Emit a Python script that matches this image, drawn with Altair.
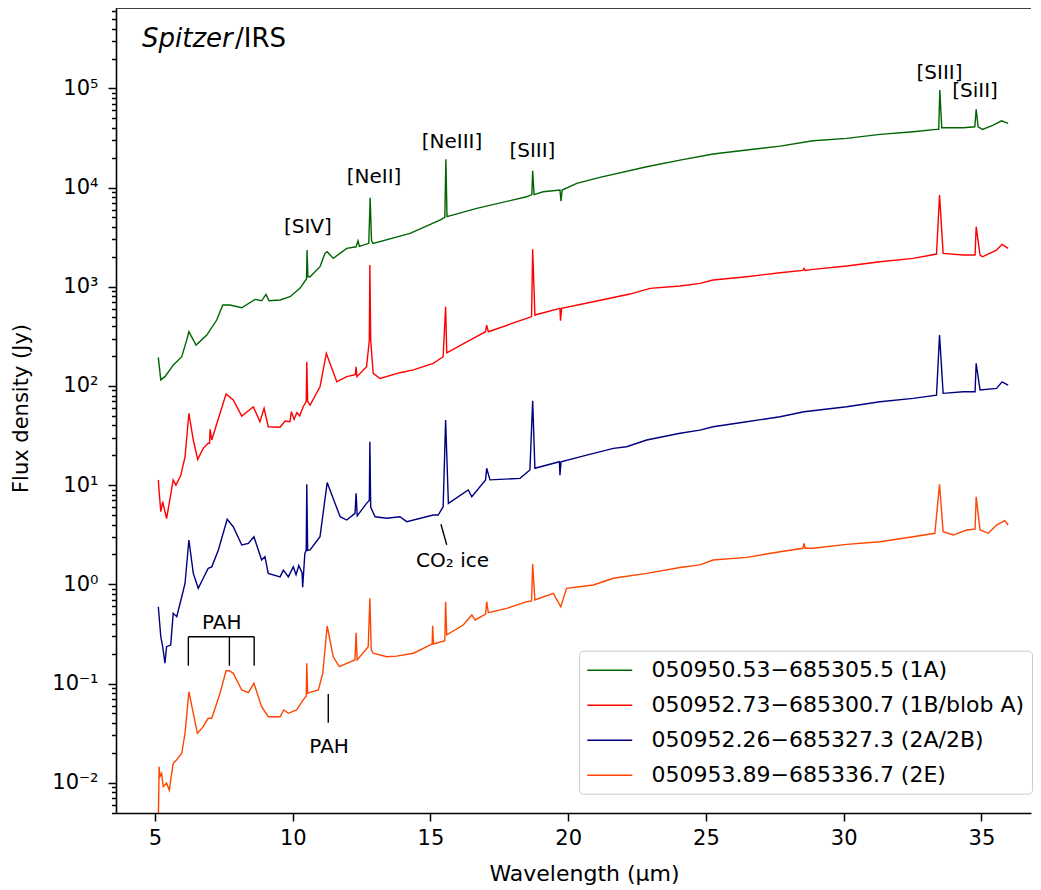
import altair as alt
import pandas as pd

# ---------------- data ----------------
names = [
    "050950.53\u2212685305.5 (1A)",
    "050952.73\u2212685300.7 (1B/blob A)",
    "050952.26\u2212685327.3 (2A/2B)",
    "050953.89\u2212685336.7 (2E)",
]
colors = ["#006400", "#ff0000", "#000080", "#ff4500"]

lam_1a = [5.12, 5.21, 5.36, 5.66, 5.97, 6.15, 6.23, 6.49, 6.88, 7.24, 7.46, 7.72, 8.15, 8.63, 8.87, 9.03, 9.14, 9.54, 9.90, 10.26,
          10.47, 10.50, 10.52, 10.55, 10.63, 10.99, 11.17, 11.25, 11.47, 11.96, 12.30, 12.37, 12.42, 12.76, 12.81, 12.86, 12.92, 14.26, 15.34, 15.52,
          15.56, 15.60, 16.68, 18.49, 18.60, 18.68, 18.71, 18.76, 19.09, 19.70, 19.74, 19.78, 20.31, 21.15, 22.85, 24.06, 25.26, 26.48, 27.69, 28.89,
          30.11, 31.32, 32.52, 33.37, 33.45, 33.49, 33.56, 33.61, 34.34, 34.76, 34.81, 34.88, 35.04, 35.43, 35.73, 35.97]
flux_1a = [194, 115, 124, 162, 197, 290, 352, 258, 326, 462, 654, 654, 614, 746, 722, 838, 722, 735, 793, 964,
           1169, 1200, 2344, 1262, 1262, 1592, 2172, 2254, 1933, 2438, 2530, 2900, 2550, 2740, 7890, 2900, 2740, 3453, 4700, 5010,
           19240, 5100, 6170, 8075, 8300, 8500, 14760, 8500, 9070, 9440, 7310, 9440, 11030, 12680, 16220, 18930, 21780, 23880, 26190, 29650,
           31340, 34370, 36540, 38620, 38620, 96160, 40090, 40090, 40090, 41000, 61420, 41030, 38620, 42660, 47120, 44390]

lam_1b = [5.12, 5.15, 5.21, 5.28, 5.42, 5.66, 5.76, 5.93, 6.09, 6.23, 6.39, 6.55, 6.75, 6.93, 6.98, 7.00, 7.06, 7.36, 7.58, 7.84,
          8.15, 8.57, 8.81, 8.96, 9.11, 9.54, 9.72, 9.90, 9.95, 10.05, 10.15, 10.25, 10.38, 10.49, 10.51, 10.54, 10.63, 10.99, 11.22, 11.35,
          11.60, 11.96, 12.27, 12.30, 12.33, 12.68, 12.78, 12.80, 12.83, 12.92, 13.17, 13.89, 14.38, 15.10, 15.46, 15.55, 15.59, 16.55, 17.00, 17.04,
          17.10, 18.49, 18.67, 18.71, 18.79, 19.70, 19.72, 19.76, 20.91, 22.24, 22.97, 24.06, 24.78, 25.26, 26.48, 27.69, 28.52, 28.56, 28.60, 28.89,
          30.11, 31.32, 32.52, 33.37, 33.48, 33.61, 34.34, 34.77, 34.81, 34.95, 35.04, 35.55, 35.75, 35.97]
flux_1b = [11.3, 8.6, 5.4, 6.8, 4.6, 11.3, 10.0, 12.4, 19.3, 53.0, 28.5, 18.2, 23.5, 26.4, 26.4, 36.5, 28.5, 53.0, 82.9, 72.1,
           49.7, 61.7, 43.6, 59.5, 38.8, 38.3, 44.3, 43.6, 55, 46, 54, 50, 61.7, 70, 175, 70, 64.2, 98.2, 213, 169,
           110, 124, 130, 156, 124, 156, 290, 1655, 290, 134, 119, 136, 145, 169, 197, 629, 216, 302, 352, 411,
           352, 480, 500, 2383, 519, 606, 454, 606, 706, 844, 964, 1016, 1082, 1169, 1262, 1384, 1460, 1532, 1460, 1497,
           1617, 1786, 1933, 2136, 8400, 2172, 2088, 2088, 4030, 2088, 2006, 2344, 2675, 2438]

lam_2a = [5.12, 5.21, 5.28, 5.36, 5.42, 5.57, 5.66, 5.79, 5.97, 6.09, 6.23, 6.39, 6.57, 6.75, 6.93, 7.06, 7.30, 7.62, 7.84, 8.15,
          8.39, 8.59, 8.87, 8.99, 9.11, 9.54, 9.66, 9.84, 10.02, 10.12, 10.22, 10.34, 10.36, 10.44, 10.49, 10.51, 10.54, 10.63, 10.99, 11.25,
          11.72, 11.96, 12.26, 12.30, 12.34, 12.68, 12.78, 12.80, 12.83, 12.99, 13.41, 13.89, 14.14, 15.10, 15.28, 15.46, 15.55, 15.65, 16.37, 16.50,
          17.00, 17.04, 17.16, 18.25, 18.61, 18.71, 18.79, 19.68, 19.70, 19.74, 20.67, 21.64, 22.12, 22.85, 24.06, 24.78, 25.26, 26.48, 27.69, 28.56,
          30.11, 31.32, 32.52, 33.37, 33.48, 33.61, 34.34, 34.77, 34.81, 34.95, 35.55, 35.75, 35.97]
flux_2a = [0.594, 0.296, 0.235, 0.160, 0.235, 0.244, 0.510, 0.471, 0.750, 1.02, 2.80, 1.29, 0.911, 1.15, 1.45, 1.50, 2.22, 4.52, 3.81, 2.49,
           2.59, 3.02, 1.76, 1.90, 1.29, 1.19, 1.39, 1.19, 1.50, 1.25, 1.55, 1.30, 0.933, 2.05, 2.2, 10.2, 2.2, 2.22, 3.02, 10.6,
           4.80, 4.45, 5.20, 8.27, 4.9, 6.55, 7.0, 27.4, 6.0, 4.80, 4.63, 4.80, 4.28, 5.00, 5.00, 6.06, 45.3, 6.55, 8.93, 7.64,
           11.3, 14.8, 11.3, 11.7, 14.2, 71.0, 14.8, 17.2, 12.6, 17.2, 20.1, 23.5, 24.4, 28.5, 33.3, 35.9, 38.8, 43.6, 48.9, 55.0,
           61.7, 69.3, 75.0, 80.9, 326, 84.2, 87.5, 87.5, 169, 90.9, 94.6, 110, 102]

lam_2e = [5.12, 5.15, 5.18, 5.24, 5.30, 5.42, 5.52, 5.57, 5.66, 5.79, 5.97, 6.09, 6.23, 6.39, 6.54, 6.75, 6.93, 7.06, 7.36, 7.58,
          7.70, 7.84, 8.15, 8.39, 8.59, 8.87, 9.11, 9.54, 9.68, 9.84, 10.14, 10.38, 10.49, 10.51, 10.54, 10.93, 11.09, 11.25, 11.47, 11.69,
          11.96, 12.26, 12.30, 12.34, 12.74, 12.80, 12.85, 12.92, 13.41, 13.77, 14.38, 14.98, 15.06, 15.08, 15.11, 15.52, 15.55, 15.59, 16.19, 16.50,
          16.62, 17.00, 17.04, 17.10, 17.77, 18.49, 18.67, 18.71, 18.79, 19.46, 19.73, 19.94, 20.91, 21.64, 22.85, 24.06, 24.78, 25.26, 26.48, 27.69,
          28.52, 28.56, 28.60, 28.89, 30.11, 31.32, 32.52, 33.31, 33.48, 33.61, 33.98, 34.46, 34.77, 34.81, 34.95, 35.25, 35.55, 35.85, 35.97]
flux_2e = [0.004, 0.0145, 0.0115, 0.0124, 0.0091, 0.0099, 0.0084, 0.0106, 0.0157, 0.0170, 0.0198, 0.0315, 0.0827, 0.0501, 0.0315, 0.0367, 0.0446, 0.0446, 0.0796, 0.1346,
           0.135, 0.1267, 0.0860, 0.0808, 0.1005, 0.0584, 0.0463, 0.0463, 0.0541, 0.0501, 0.0541, 0.0683, 0.075, 0.160, 0.080, 0.0860, 0.1267, 0.380, 0.186, 0.148,
           0.160, 0.173, 0.325, 0.173, 0.235, 0.722, 0.22, 0.202, 0.186, 0.189, 0.202, 0.244, 0.25, 0.383, 0.25, 0.27, 0.668, 0.310, 0.389, 0.491,
           0.437, 0.50, 0.668, 0.517, 0.573, 0.668, 0.68, 1.60, 0.695, 0.812, 0.594, 0.911, 0.984, 1.15, 1.29, 1.48, 1.57, 1.76, 1.87, 2.13,
           2.31, 2.59, 2.31, 2.31, 2.53, 2.69, 3.02, 3.27, 10.2, 3.39, 3.14, 3.53, 3.6, 7.64, 3.53, 3.27, 3.96, 4.38, 3.96]

# annotation labels (wavelength, flux position of text baseline centre)
ann_text = ["[SIV]", "[NeII]", "[NeIII]", "[SIII]", "[SIII]", "[SiII]", "PAH", "PAH", "CO\u2082 ice"]
ann_lam = [10.55, 12.95, 15.78, 18.70, 33.48, 34.77, 7.42, 11.32, 15.80]
ann_flux = [3477, 11170, 24850, 20460, 123300, 82270, 0.352, 0.0198, 1.48]

# annotation bracket / pointer segments
seg_x = [6.21, 6.21, 7.70, 8.60, 11.29, 15.38]
seg_x2 = [8.60, 6.21, 7.70, 8.60, 11.29, 15.59]
seg_y = [0.296, 0.296, 0.296, 0.296, 0.0784, 4.03]
seg_y2 = [0.296, 0.151, 0.151, 0.151, 0.0403, 2.50]

x_ticks = [5, 10, 15, 20, 25, 30, 35]
y_exp_labels = ["\u207b\u00b3", "\u207b\u00b2", "\u207b\u00b9", "\u2070", "\u00b9", "\u00b2", "\u00b3", "\u2074", "\u2075"]

# ---------------- build ----------------
rows = []
for name, lam, flux in [(names[0], lam_1a, flux_1a), (names[1], lam_1b, flux_1b),
                        (names[2], lam_2a, flux_2a), (names[3], lam_2e, flux_2e)]:
    assert len(lam) == len(flux), name
    for l, f in zip(lam, flux):
        rows.append({"source": name, "wavelength": l, "flux": f})
df = pd.DataFrame(rows)

ann_df = pd.DataFrame({"wavelength": ann_lam, "flux": ann_flux, "label": ann_text})
seg_df = pd.DataFrame({"wavelength": seg_x, "wavelength2": seg_x2, "flux": seg_y, "flux2": seg_y2})

W, H = 915, 805
X_DOM = [3.584, 36.80]
Y_DOM = [0.00495, 6.46e5]
FONT = "DejaVu Sans"

y_vals = []
for e in range(-3, 6):
    for m in range(1, 10):
        v = float(f"{m}e{e}")
        if Y_DOM[0] <= v <= Y_DOM[1]:
            y_vals.append(v)

major_test = "abs(log(datum.value)/LN10 - round(log(datum.value)/LN10)) < 0.01"
exp_arr = "[" + ",".join("'" + s + "'" for s in y_exp_labels) + "]"
label_expr = f"({major_test}) ? '10' + {exp_arr}[round(log(datum.value)/LN10) + 3] : ''"

x_scale = alt.Scale(domain=X_DOM, nice=False, zero=False)
y_scale = alt.Scale(type="log", domain=Y_DOM, nice=False)

x_axis = alt.Axis(values=x_ticks, format="d", grid=False, tickSize=8, tickWidth=1.5, tickColor="black",
                  domainColor="black", domainWidth=1.6, labelFontSize=21, labelColor="black", labelFont=FONT,
                  labelPadding=6, title="Wavelength (\u03bcm)", titleFontSize=22, titleFontWeight="normal",
                  titleFont=FONT, titleColor="black", titleX=468, titleY=67, titleBaseline="alphabetic")
y_axis = alt.Axis(values=y_vals, labelExpr=label_expr, grid=False,
                  tickSize={"condition": {"test": major_test, "value": 8}, "value": 4.5},
                  tickWidth=1.5, tickColor="black", domainColor="black", domainWidth=1.6,
                  labelFontSize=21, labelColor="black", labelFont=FONT, labelPadding=10, labelOverlap=False,
                  title="Flux density (Jy)", titleFontSize=21, titleFontWeight="normal", titleFont=FONT,
                  titleColor="black", titleX=-89, titleY=400, titleBaseline="alphabetic", titleAngle=270)

X = alt.X("wavelength:Q", scale=x_scale, axis=x_axis, title="Wavelength (\u03bcm)")
Y = alt.Y("flux:Q", scale=y_scale, axis=y_axis, title="Flux density (Jy)")

lines = alt.Chart(df).mark_line(clip=True, strokeWidth=1.4).encode(
    x=X, y=Y,
    color=alt.Color("source:N", scale=alt.Scale(domain=names, range=colors),
                    legend=alt.Legend(title=None, orient="none", legendX=463, legendY=642.7,
                                      symbolType="M-1,0H3", symbolSize=506, symbolStrokeWidth=1.4,
                                      labelFontSize=22, labelFont=FONT, labelColor="black", labelLimit=600,
                                      labelOffset=41, rowPadding=12, padding=7.5,
                                      strokeColor="#cccccc", fillColor="rgba(255,255,255,0.8)",
                                      cornerRadius=4)),
    detail="source:N",
)

rules = alt.Chart(seg_df).mark_rule(color="black", strokeWidth=1.4).encode(
    x=X, x2="wavelength2:Q", y=Y, y2="flux2:Q")

texts = alt.Chart(ann_df).mark_text(font=FONT, fontSize=20, color="black", align="center",
                                    baseline="alphabetic").encode(x=X, y=Y, text="label:N")

one = alt.Data(values=[{}])
top_spine = alt.Chart(one).mark_rule(color="black", strokeWidth=1.6).encode(
    x=alt.value(0), x2=alt.value(W), y=alt.value(0))
spitzer = alt.Chart(one).mark_text(text="Spitzer", font=FONT, fontStyle="italic", fontSize=26,
                                   align="left", baseline="alphabetic", color="black").encode(
    x=alt.value(26), y=alt.value(38.7))
irs = alt.Chart(one).mark_text(text="/IRS", font=FONT, fontSize=26, align="left",
                               baseline="alphabetic", color="black").encode(
    x=alt.value(119), y=alt.value(38.7))

chart = alt.layer(lines, rules, texts, top_spine, spitzer, irs).properties(
    width=W, height=H,
    padding={"left": 108, "top": 0, "right": 2, "bottom": 78},
    autosize=alt.AutoSizeParams(type="none"),
).configure(font=FONT).configure_view(stroke=None)

chart.save("out.html", embed_options={"renderer": "svg", "actions": False})
